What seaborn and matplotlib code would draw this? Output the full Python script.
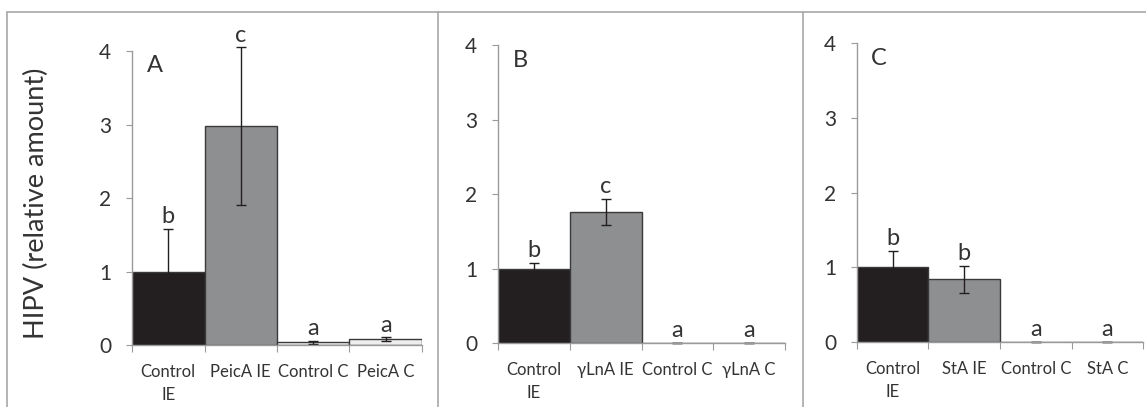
import matplotlib
matplotlib.use("Agg")
import matplotlib.pyplot as plt
import seaborn as sns
from matplotlib.lines import Line2D

# Dados
cats_a = ["Control\nIE", "PeicA IE", "Control C", "PeicA C"]
vals_a = [1.0, 2.98, 0.04, 0.08]
err_a = [0.58, 1.07, 0.02, 0.03]
sig_a = ["b", "c", "a", "a"]

cats_b = ["Control\nIE", "γLnA IE", "Control C", "γLnA C"]
vals_b = [1.0, 1.76, 0.005, 0.005]
err_b = [0.08, 0.18, 0.0, 0.0]
sig_b = ["b", "c", "a", "a"]

cats_c = ["Control\nIE", "StA IE", "Control C", "StA C"]
vals_c = [1.0, 0.84, 0.005, 0.005]
err_c = [0.22, 0.18, 0.0, 0.0]
sig_c = ["b", "b", "a", "a"]

panels = ["A", "B", "C"]
bar_colors = ["#231f20", "#8e8f91", "#eeeeee", "#eeeeee"]
text_color = "#333333"
axis_color = "#9a9a9a"

sns.set_style("white")
plt.rcParams["font.family"] = ["Lato", "DejaVu Sans"]

fig = plt.figure(figsize=(11.46, 4.07), dpi=100)

positions = [
    [0.1152, 0.1523, 0.2530, 0.7224],
    [0.4346, 0.1572, 0.2504, 0.7320],
    [0.7478, 0.1597, 0.2496, 0.7346],
]

datasets = [
    (cats_a, vals_a, err_a, sig_a),
    (cats_b, vals_b, err_b, sig_b),
    (cats_c, vals_c, err_c, sig_c),
]

for pos, (cats, vals, errs, sigs), letter in zip(positions, datasets, panels):
    ax = fig.add_axes(pos)
    sns.barplot(x=cats, y=vals, hue=cats, palette=bar_colors, width=1.0,
                saturation=1, edgecolor="#3a3a3a", linewidth=1.0,
                legend=False, ax=ax)
    eb = ax.errorbar(range(len(cats)), vals, yerr=errs, fmt="none",
                     ecolor="#231f20", elinewidth=1.0, capsize=3.5, capthick=1.0)
    for art in eb.lines[1] + eb.lines[2]:
        art.set_clip_on(False)
    for i, (v, e, s) in enumerate(zip(vals, errs, sigs)):
        ax.annotate(s, (i, v + e), xytext=(0, 1), textcoords="offset points",
                    ha="center", va="bottom", fontsize=17, color=text_color,
                    annotation_clip=False)
    ax.text(0.05, 0.985, letter, transform=ax.transAxes, ha="left", va="top",
            fontsize=17, color=text_color)

    ax.set_xlim(-0.5, 3.5)
    ax.set_ylim(0, 4)
    ax.set_yticks([0, 1, 2, 3, 4])
    ax.tick_params(axis="y", direction="out", length=4, width=0.8,
                   color=axis_color, labelsize=15, labelcolor=text_color, pad=11, left=True)
    ax.set_xticks([-0.5, 0.5, 1.5, 2.5, 3.5])
    ax.set_xticklabels([])
    ax.tick_params(axis="x", which="major", direction="out", length=5, width=0.8,
                   color=axis_color, bottom=True)
    ax.set_xticks(range(len(cats)), minor=True)
    ax.set_xticklabels(cats, minor=True)
    ax.tick_params(axis="x", which="minor", length=0, labelsize=12,
                   labelcolor=text_color, pad=14)
    for lab in ax.get_xticklabels(minor=True):
        lab.set_linespacing(1.5)
    sns.despine(ax=ax, top=True, right=True)
    for side in ["left", "bottom"]:
        ax.spines[side].set_color(axis_color)
        ax.spines[side].set_linewidth(1.0)
    ax.set_xlabel("")
    ax.set_ylabel("")

fig.text(0.032, 0.50, "HIPV (relative amount)", rotation=90, ha="center",
         va="center", fontsize=19.5, color=text_color)

# Moldura dos painéis
frame = "#a8a8a8"
top = 1 - 12 / 407
for x in [7 / 1146, 438 / 1146, 803 / 1146]:
    fig.add_artist(Line2D([x, x], [0, top], color=frame, linewidth=1.2))
fig.add_artist(Line2D([7 / 1146, 1.0], [top, top], color=frame, linewidth=1.2))

fig.savefig("out.png", dpi=100)
